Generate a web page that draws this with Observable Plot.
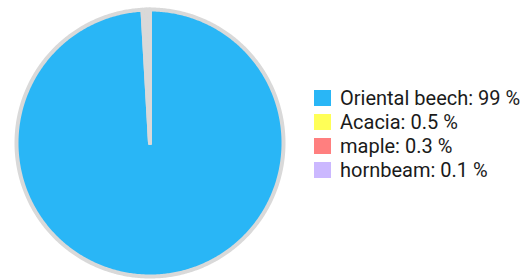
<!DOCTYPE html>
<html>
<head>
<meta charset="utf-8">
<script src="https://cdn.jsdelivr.net/npm/d3@7"></script>
<script src="https://cdn.jsdelivr.net/npm/@observablehq/plot@0.6"></script>
<style>
  html, body { margin: 0; padding: 0; background: #fff; }
  #wrap { position: relative; width: 527px; height: 280px; overflow: hidden; }
  #legend { position: absolute; left: 314px; top: 86px; font-family: Roboto, sans-serif; font-size: 20px; color: #1a1a1a; }
  .row { display: flex; align-items: center; height: 24px; white-space: nowrap; }
  .sw { width: 17px; height: 16px; margin-right: 9px; flex: none; }
</style>
</head>
<body>
<div id="wrap"></div>
<script>
const species = ["Oriental beech", "Acacia", "maple", "hornbeam"];
const shares = [99, 0.5, 0.3, 0.1];
const colors = ["#29B6F6", "#FFFF57", "#FF7F7F", "#CBB8FF"];

const data = species.map((name, i) => ({name, value: shares[i]}));
const arcs = d3.pie().value(d => d.value).sort(null)(data);

// outline points of each slice (unit circle, angle clockwise from top)
const pts = [];
for (const a of arcs) {
  pts.push({name: a.data.name, x: 0, y: 0});
  const n = Math.max(2, Math.ceil((a.endAngle - a.startAngle) / 0.01));
  for (let k = 0; k <= n; k++) {
    const t = a.startAngle + (a.endAngle - a.startAngle) * k / n;
    pts.push({name: a.data.name, x: Math.sin(t), y: Math.cos(t)});
  }
}

const cx = 149.5, cy = 142.5, r = 133.5;
const chart = Plot.plot({
  width: 527,
  height: 280,
  margin: 0,
  x: {domain: [-1, 1], range: [cx - r, cx + r], axis: null},
  y: {domain: [-1, 1], range: [cy + r, cy - r], axis: null},
  color: {domain: species, range: colors},
  marks: [
    Plot.line(pts, {x: "x", y: "y", z: "name", fill: "name", stroke: "none", curve: "linear-closed"}),
    Plot.line(pts, {x: "x", y: "y", z: "name", fill: "none", stroke: "#d9d9d9", strokeWidth: 4, strokeLinejoin: "round", curve: "linear-closed"})
  ]
});

const wrap = document.getElementById("wrap");
wrap.appendChild(chart);

const color = chart.scale("color");
const legend = document.createElement("div");
legend.id = "legend";
data.forEach(d => {
  const row = document.createElement("div");
  row.className = "row";
  const sw = document.createElement("div");
  sw.className = "sw";
  sw.style.background = color.apply(d.name);
  const label = document.createElement("span");
  label.textContent = `${d.name}: ${d.value} %`;
  row.appendChild(sw);
  row.appendChild(label);
  legend.appendChild(row);
});
wrap.appendChild(legend);
</script>
</body>
</html>
